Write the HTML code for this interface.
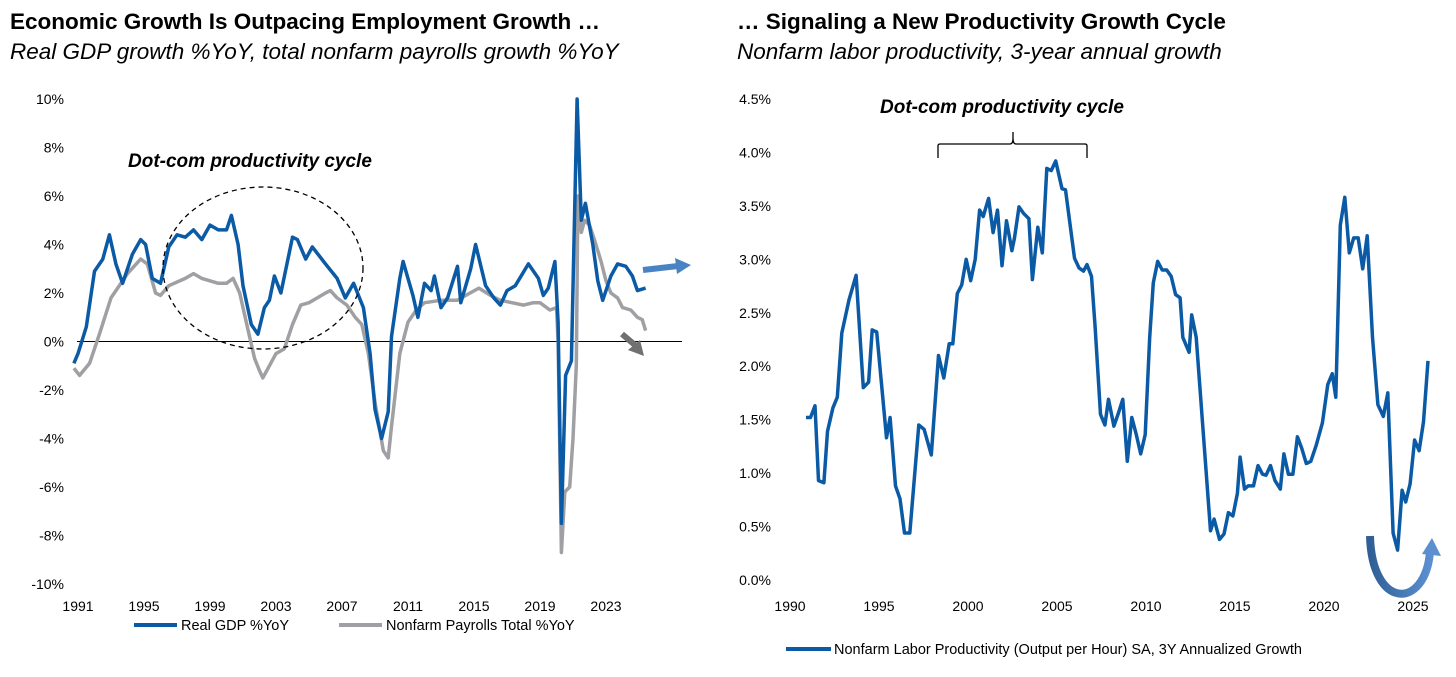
<!DOCTYPE html>
<html><head><meta charset="utf-8"><style>
body{margin:0;background:#fff;width:1456px;height:677px;overflow:hidden;font-family:"Liberation Sans",sans-serif}
svg{position:absolute;left:0;top:0}
</style></head><body>
<svg id="c" width="1456" height="677">
<defs><linearGradient id="ug" x1="0" x2="1"><stop offset="0" stop-color="#2f5f95"/><stop offset="1" stop-color="#5b8fd0"/></linearGradient></defs>
<text x="10" y="29" font-size="22.5" font-weight="bold" fill="#000">Economic Growth Is Outpacing Employment Growth …</text>
<text x="10" y="59" font-size="22.5" font-style="italic" fill="#000">Real GDP growth %YoY, total nonfarm payrolls growth %YoY</text>
<text x="737" y="29" font-size="22.5" font-weight="bold" fill="#000">… Signaling a New Productivity Growth Cycle</text>
<text x="737" y="59" font-size="22.5" font-style="italic" fill="#000">Nonfarm labor productivity, 3-year annual growth</text>
<g id="L"></g><g id="R"></g>
<text x="128" y="167" font-size="19" font-weight="bold" font-style="italic">Dot-com productivity cycle</text>
<ellipse cx="263" cy="268" rx="100" ry="81" fill="none" stroke="#000" stroke-width="1.3" stroke-dasharray="5,4"/>
<path d="M643 270 L678 266" stroke="#4a83c3" stroke-width="6"/><path d="M675 258 L691 265 L677 274 Z" fill="#4a83c3"/>
<path d="M622 334 L636 346" stroke="#707070" stroke-width="6"/><path d="M628 350 L644 356 L640 340 Z" fill="#707070"/>
<text x="880" y="113" font-size="19" font-weight="bold" font-style="italic">Dot-com productivity cycle</text>
<path d="M938 158 L938 146 Q938 144 940 144 L1010 144 Q1013 144 1013 138 L1013 132 M1013 138 Q1013 144 1016 144 L1085 144 Q1087 144 1087 146 L1087 158" fill="none" stroke="#000" stroke-width="1.3"/>
<path d="M1370 536 C1372 610 1425 610 1430 552" fill="none" stroke="url(#ug)" stroke-width="8"/><path d="M1422 554 L1432 538 L1441 556 Z" fill="#5b8fd0"/>
</svg>
<script>
var gdpYears=[1990.75,1991,1991.5,1992,1992.5,1992.9,1993.3,1993.7,1994.3,1994.8,1995.1,1995.5,1996,1996.5,1997,1997.5,1998,1998.5,1999,1999.5,2000,2000.3,2000.7,2001,2001.5,2001.9,2002.3,2002.6,2002.9,2003.3,2004,2004.3,2004.8,2005.2,2006,2006.7,2007.2,2007.7,2008.3,2008.7,2009,2009.4,2009.8,2010,2010.5,2010.7,2011.3,2011.6,2012,2012.4,2012.6,2013,2013.4,2014,2014.2,2014.8,2015.1,2015.7,2016.2,2016.6,2017,2017.5,2018.3,2018.9,2019.2,2019.5,2019.9,2020.1,2020.3,2020.55,2020.9,2021.25,2021.5,2021.75,2022.2,2022.5,2022.8,2023.3,2023.7,2024.2,2024.6,2024.9,2025.4];
var gdpVals=[-0.9,-0.5,0.6,2.9,3.4,4.4,3.2,2.4,3.6,4.2,4.0,2.6,2.4,3.9,4.4,4.3,4.6,4.2,4.8,4.6,4.6,5.2,4.0,2.3,0.7,0.3,1.4,1.7,2.7,2.0,4.3,4.2,3.4,3.9,3.2,2.6,1.8,2.4,1.4,-0.5,-2.8,-4.0,-2.9,0.2,2.6,3.3,1.9,1.0,2.4,2.1,2.7,1.4,1.8,3.1,1.6,3.0,4.0,2.3,1.8,1.5,2.1,2.3,3.2,2.6,1.9,2.2,3.3,0.8,-7.5,-1.4,-0.8,10.0,5.0,5.7,4.0,2.5,1.7,2.7,3.2,3.1,2.7,2.1,2.2];
var payYears=[1990.75,1991.1,1991.7,1992.3,1993,1994,1994.8,1995.2,1995.7,1996,1996.5,1997.5,1998,1998.5,1999.5,2000,2000.4,2000.8,2001.3,2001.7,2002,2002.2,2002.6,2003,2003.5,2004,2004.5,2005,2005.5,2006,2006.3,2006.7,2007.3,2007.8,2008.2,2008.6,2009,2009.5,2009.8,2010,2010.5,2011,2011.5,2012,2013,2014,2014.5,2015.3,2016,2016.6,2017.3,2018,2018.6,2019,2019.6,2020,2020.1,2020.3,2020.5,2020.8,2021,2021.2,2021.3,2021.5,2021.7,2022,2022.3,2022.7,2023,2023.3,2023.7,2024,2024.5,2024.9,2025.2,2025.4];
var payVals=[-1.1,-1.4,-0.9,0.3,1.8,2.8,3.4,3.2,2.0,1.9,2.3,2.6,2.8,2.6,2.4,2.4,2.6,2.0,0.5,-0.7,-1.2,-1.5,-1.0,-0.5,-0.3,0.7,1.5,1.6,1.8,2.0,2.1,1.8,1.5,1.0,0.7,-0.5,-2.5,-4.5,-4.8,-3.5,-0.5,0.8,1.3,1.6,1.7,1.7,1.9,2.2,1.9,1.7,1.6,1.5,1.6,1.6,1.3,1.4,0.0,-8.7,-6.2,-6.0,-4.0,-1.0,6.0,4.5,5.0,4.8,4.2,3.3,2.5,2.0,1.8,1.4,1.3,1.0,0.9,0.45];
var leftYTicks=[10,8,6,4,2,0,-2,-4,-6,-8,-10];
var leftXTicks=[1991,1995,1999,2003,2007,2011,2015,2019,2023];
var prodYears=[1990,1990.25,1990.5,1990.7,1991,1991.2,1991.5,1991.75,1992,1992.4,1992.8,1993.2,1993.5,1993.7,1993.95,1994.5,1994.7,1995,1995.25,1995.5,1995.8,1996.3,1996.6,1997,1997.4,1997.7,1998,1998.2,1998.45,1998.7,1998.95,1999.2,1999.45,1999.7,1999.9,2000.2,2000.45,2000.7,2000.95,2001.2,2001.5,2001.65,2001.9,2002.15,2002.45,2002.65,2002.95,2003.2,2003.45,2003.7,2003.95,2004.3,2004.5,2005,2005.25,2005.5,2005.7,2005.95,2006.15,2006.45,2006.7,2006.9,2007.2,2007.45,2007.7,2007.95,2008.2,2008.45,2008.7,2008.95,2009.2,2009.4,2009.65,2009.9,2010.15,2010.4,2010.65,2010.9,2011.05,2011.4,2011.55,2011.8,2012.2,2012.6,2012.8,2013.1,2013.35,2013.6,2013.85,2014.1,2014.25,2014.5,2014.7,2015,2015.25,2015.5,2015.7,2015.95,2016.2,2016.5,2016.7,2016.95,2017.2,2017.45,2017.7,2017.95,2018.2,2018.5,2018.85,2019.15,2019.4,2019.6,2019.85,2020.1,2020.35,2020.6,2020.85,2021.1,2021.35,2021.65,2021.95,2022.25,2022.5,2022.8,2023.05,2023.3,2023.5,2023.75,2024,2024.25,2024.5,2024.75];
var prodVals=[1.52,1.52,1.63,0.93,0.91,1.39,1.61,1.71,2.31,2.62,2.85,1.8,1.85,2.34,2.32,1.33,1.52,0.88,0.76,0.44,0.44,1.45,1.41,1.17,2.1,1.89,2.21,2.21,2.68,2.76,3.0,2.8,3.0,3.46,3.4,3.57,3.25,3.46,2.94,3.36,3.08,3.2,3.49,3.43,3.38,2.81,3.3,3.06,3.85,3.83,3.92,3.66,3.65,3.01,2.92,2.89,2.95,2.84,2.37,1.55,1.45,1.69,1.44,1.56,1.69,1.11,1.52,1.36,1.18,1.36,2.27,2.78,2.98,2.9,2.9,2.84,2.67,2.64,2.27,2.13,2.48,2.27,1.36,0.46,0.57,0.38,0.43,0.63,0.6,0.81,1.15,0.85,0.88,0.88,1.07,0.99,0.98,1.07,0.93,0.85,1.18,0.99,0.99,1.34,1.23,1.09,1.11,1.26,1.47,1.83,1.93,1.71,3.32,3.58,3.06,3.2,3.2,2.91,3.22,2.27,1.64,1.53,1.75,0.44,0.28,0.84,0.73,0.9,1.31,1.21,1.48,2.05];
var rightYTicks=[4.5,4.0,3.5,3.0,2.5,2.0,1.5,1.0,0.5,0.0];
var rightXTicks=[1990,1995,2000,2005,2010,2015,2020,2025];

var NS='http://www.w3.org/2000/svg';
function mk(p,t,a){var e=document.createElementNS(NS,t);for(var k in a)e.setAttribute(k,a[k]);p.appendChild(e);return e;}
function lx(y){return 78+(y-1991)*16.5;}
function ly(v){return 341.5-v*24.25;}
function rxt(y){return 790+(y-1990)*17.8;}
function rx(y){return 806+(y-1990)*17.9;}
function ry(v){return 580-v*106.9;}
var L=document.getElementById('L'),R=document.getElementById('R');
leftYTicks.forEach(function(v){var t=mk(L,'text',{x:64,y:ly(v)+5,'font-size':14,'text-anchor':'end'});t.textContent=v+'%';

});
leftXTicks.forEach(function(v){var t=mk(L,'text',{x:lx(v),y:611,'font-size':14,'text-anchor':'middle'});t.textContent=v;

});
var z=mk(L,'line',{x1:77,x2:682,y1:ly(0),y2:ly(0),stroke:'#000','stroke-width':1});


function pts(xs,vs,fx,fy){return xs.map(function(x,i){return fx(x).toFixed(1)+','+fy(vs[i]).toFixed(1);}).join(' ');}
var g=mk(L,'polyline',{points:pts(payYears,payVals,lx,ly),fill:'none',stroke:'#a0a0a4','stroke-width':3.5,'stroke-linejoin':'round'});


var b=mk(L,'polyline',{points:pts(gdpYears,gdpVals,lx,ly),fill:'none',stroke:'#0b5aa6','stroke-width':3.5,'stroke-linejoin':'round'});


rightYTicks.forEach(function(v){var t=mk(R,'text',{x:771,y:ry(v)+5,'font-size':14,'text-anchor':'end'});t.textContent=v.toFixed(1)+'%';

});
rightXTicks.forEach(function(v){var t=mk(R,'text',{x:rxt(v),y:611,'font-size':14,'text-anchor':'middle'});t.textContent=v;

});
var p=mk(R,'polyline',{points:pts(prodYears,prodVals,rx,ry),fill:'none',stroke:'#0b5aa6','stroke-width':3.5,'stroke-linejoin':'round'});


var l1=mk(L,'line',{x1:134,x2:177,y1:625,y2:625,stroke:'#0b5aa6','stroke-width':4});


var t1=mk(L,'text',{x:181,y:630,'font-size':14.5});t1.textContent='Real GDP %YoY';


var l2=mk(L,'line',{x1:339,x2:382,y1:625,y2:625,stroke:'#a0a0a4','stroke-width':4});


var t2=mk(L,'text',{x:386,y:630,'font-size':14.5});t2.textContent='Nonfarm Payrolls Total %YoY';


var l3=mk(R,'line',{x1:786,x2:831,y1:649,y2:649,stroke:'#0b5aa6','stroke-width':4});


var t3=mk(R,'text',{x:834,y:654,'font-size':14.5});t3.textContent='Nonfarm Labor Productivity (Output per Hour) SA, 3Y Annualized Growth';


</script>
</body></html>
